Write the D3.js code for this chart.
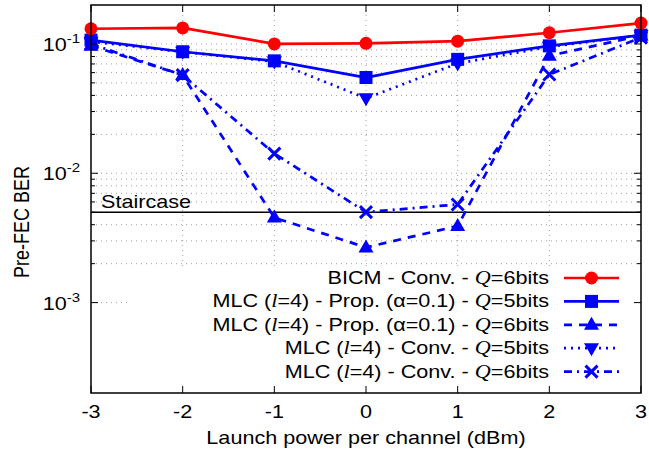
<!DOCTYPE html>
<html><head><meta charset="utf-8">
<script src="https://cdn.jsdelivr.net/npm/d3@7"></script>
<style>body{margin:0;background:#fff}svg{display:block}text{font-family:"Liberation Sans",Arial,sans-serif}</style>
</head><body><svg id="c" width="649" height="454"></svg>
<script>
const powers = [-3,-2,-1,0,1,2,3];
const bicmConvQ6 = [0.131,0.133,0.100,0.101,0.105,0.122,0.145];
const mlcPropQ5 = [0.107,0.087,0.074,0.055,0.076,0.0966,0.117];
const mlcPropQ6 = [0.097,0.0574,0.00454,0.00267,0.00391,0.081,0.116];
const mlcConvQ5 = [0.104,0.087,0.073,0.038,0.0706,0.095,0.117];
const mlcConvQ6 = [0.100,0.0574,0.0142,0.00501,0.00574,0.058,0.112];
const staircase = 0.005;
const xTicks = [-3,-2,-1,0,1,2,3];
const yTicks = [1e-3,1e-2,1e-1];
const yTickExp = ["-3","-2","-1"];

const series = [
  {name:[["BICM - Conv. - ",0],["Q",1],["=6bits",0]], vals:bicmConvQ6, color:"#ff0000", dash:null, mk:"circle"},
  {name:[["MLC (",0],["l",1],["=4) - Prop. (α=0.1) - ",0],["Q",1],["=5bits",0]], vals:mlcPropQ5, color:"#0000ff", dash:null, mk:"square"},
  {name:[["MLC (",0],["l",1],["=4) - Prop. (α=0.1) - ",0],["Q",1],["=6bits",0]], vals:mlcPropQ6, color:"#0000ff", dash:"8,7", mk:"up"},
  {name:[["MLC (",0],["l",1],["=4) - Conv. - ",0],["Q",1],["=5bits",0]], vals:mlcConvQ5, color:"#0000ff", dash:"2,5", mk:"down"},
  {name:[["MLC (",0],["l",1],["=4) - Conv. - ",0],["Q",1],["=6bits",0]], vals:mlcConvQ6, color:"#0000ff", dash:"8,5,2,5", mk:"x"}
];

const L=91,R=641,T=5,B=393;
const SX=1.2, FS=18;
const svg=d3.select("#c");
const x=d3.scaleLinear().domain([-3,3]).range([L,R]);
const y=d3.scaleLog().domain([2e-4,0.2]).range([B,T]);

function txt(px,py,anchor,fs){
  return svg.append("text").attr("transform",`translate(${px},${py}) scale(${SX},1)`)
    .attr("text-anchor",anchor).attr("font-size",fs);
}

// grid
const g=svg.append("g");
const minor=[];
[1e-3,1e-2].forEach(d=>{for(let k=2;k<=9;k++)minor.push(d*k);});
const gridY=yTicks.concat(minor);
g.selectAll("line.gy").data(gridY).join("line")
 .attr("x1",L).attr("x2",R).attr("y1",d=>y(d)).attr("y2",d=>y(d))
 .attr("stroke","#a0a0a0").attr("stroke-width",1).attr("stroke-dasharray","1,4");
g.selectAll("line.gx").data(xTicks.slice(1,-1)).join("line")
 .attr("x1",d=>x(d)).attr("x2",d=>x(d)).attr("y1",T).attr("y2",B)
 .attr("stroke","#a0a0a0").attr("stroke-width",1).attr("stroke-dasharray","1,4");

// opaque key box
svg.append("rect").attr("x",128).attr("y",266).attr("width",R-128-1).attr("height",B-266-1).attr("fill","#fff");

// staircase
svg.append("line").attr("x1",L).attr("x2",R).attr("y1",y(staircase)).attr("y2",y(staircase))
 .attr("stroke","#000").attr("stroke-width",1.5);
txt(101,y(staircase)-4,"start",FS).text("Staircase");

// series
const line=d3.line().x((d,i)=>x(powers[i])).y(d=>y(d));
function marker(sel,type,color){
  if(type==="circle") sel.append("circle").attr("r",6.5).attr("fill",color);
  else if(type==="square") sel.append("rect").attr("x",-6.5).attr("y",-6.5).attr("width",13).attr("height",13).attr("fill",color);
  else if(type==="up") sel.append("path").attr("d","M0,-8L7.5,5L-7.5,5Z").attr("fill",color);
  else if(type==="down") sel.append("path").attr("d","M0,8L7.5,-5L-7.5,-5Z").attr("fill",color);
  else if(type==="x") sel.append("path").attr("d","M-6,-6L6,6M-6,6L6,-6").attr("stroke",color).attr("stroke-width",3).attr("fill","none");
}
const order=[4,3,2,1,0];
order.forEach(si=>{
  const s=series[si];
  svg.append("path").attr("d",line(s.vals)).attr("fill","none").attr("stroke",s.color)
   .attr("stroke-width",2.7).attr("stroke-dasharray",s.dash);
});
order.forEach(si=>{
  const s=series[si];
  s.vals.forEach((v,i)=>{
    const gg=svg.append("g").attr("transform",`translate(${x(powers[i])},${y(v)})`);
    marker(gg,s.mk,s.color);
  });
});

// legend
series.forEach((s,i)=>{
  const yy=278+i*23.4;
  const t=txt(549,yy+6,"end",FS);
  s.name.forEach(([str,it])=>{
    const ts=t.append("tspan").text(str);
    if(it) ts.attr("font-family","'Liberation Serif',serif").attr("font-style","italic").attr("font-size",18.5);
  });
  svg.append("line").attr("x1",564).attr("x2",619).attr("y1",yy).attr("y2",yy)
   .attr("stroke",s.color).attr("stroke-width",2.7).attr("stroke-dasharray",s.dash);
  const gg=svg.append("g").attr("transform",`translate(591.5,${yy})`);
  marker(gg,s.mk,s.color);
});

// ticks
const tk=svg.append("g").attr("stroke","#000").attr("stroke-width",1);
xTicks.forEach(d=>{
  tk.append("line").attr("x1",x(d)).attr("x2",x(d)).attr("y1",B).attr("y2",B-7);
  tk.append("line").attr("x1",x(d)).attr("x2",x(d)).attr("y1",T).attr("y2",T+7);
});
yTicks.forEach(d=>{
  tk.append("line").attr("x1",L).attr("x2",L+7).attr("y1",y(d)).attr("y2",y(d));
  tk.append("line").attr("x1",R).attr("x2",R-7).attr("y1",y(d)).attr("y2",y(d));
});
minor.forEach(d=>{
  tk.append("line").attr("x1",L).attr("x2",L+4).attr("y1",y(d)).attr("y2",y(d));
  tk.append("line").attr("x1",R).attr("x2",R-4).attr("y1",y(d)).attr("y2",y(d));
});
// border
svg.append("rect").attr("x",L).attr("y",T).attr("width",R-L).attr("height",B-T)
 .attr("fill","none").attr("stroke","#000").attr("stroke-width",1.5);

// tick labels
xTicks.forEach(d=>{ txt(x(d),418,"middle",FS).text(d); });
yTicks.forEach((d,i)=>{
  const t=txt(80,y(d)+7,"end",FS);
  t.append("tspan").text("10");
  t.append("tspan").attr("dy",-8).attr("font-size",12.5).text(yTickExp[i]);
});
// axis titles
txt(366,444,"middle",FS).text("Launch power per channel (dBm)");
svg.append("text").attr("transform","translate(29,222) scale(1.2,1) rotate(-90)").attr("text-anchor","middle")
 .attr("font-size",FS).text("Pre-FEC BER");
</script></body></html>
